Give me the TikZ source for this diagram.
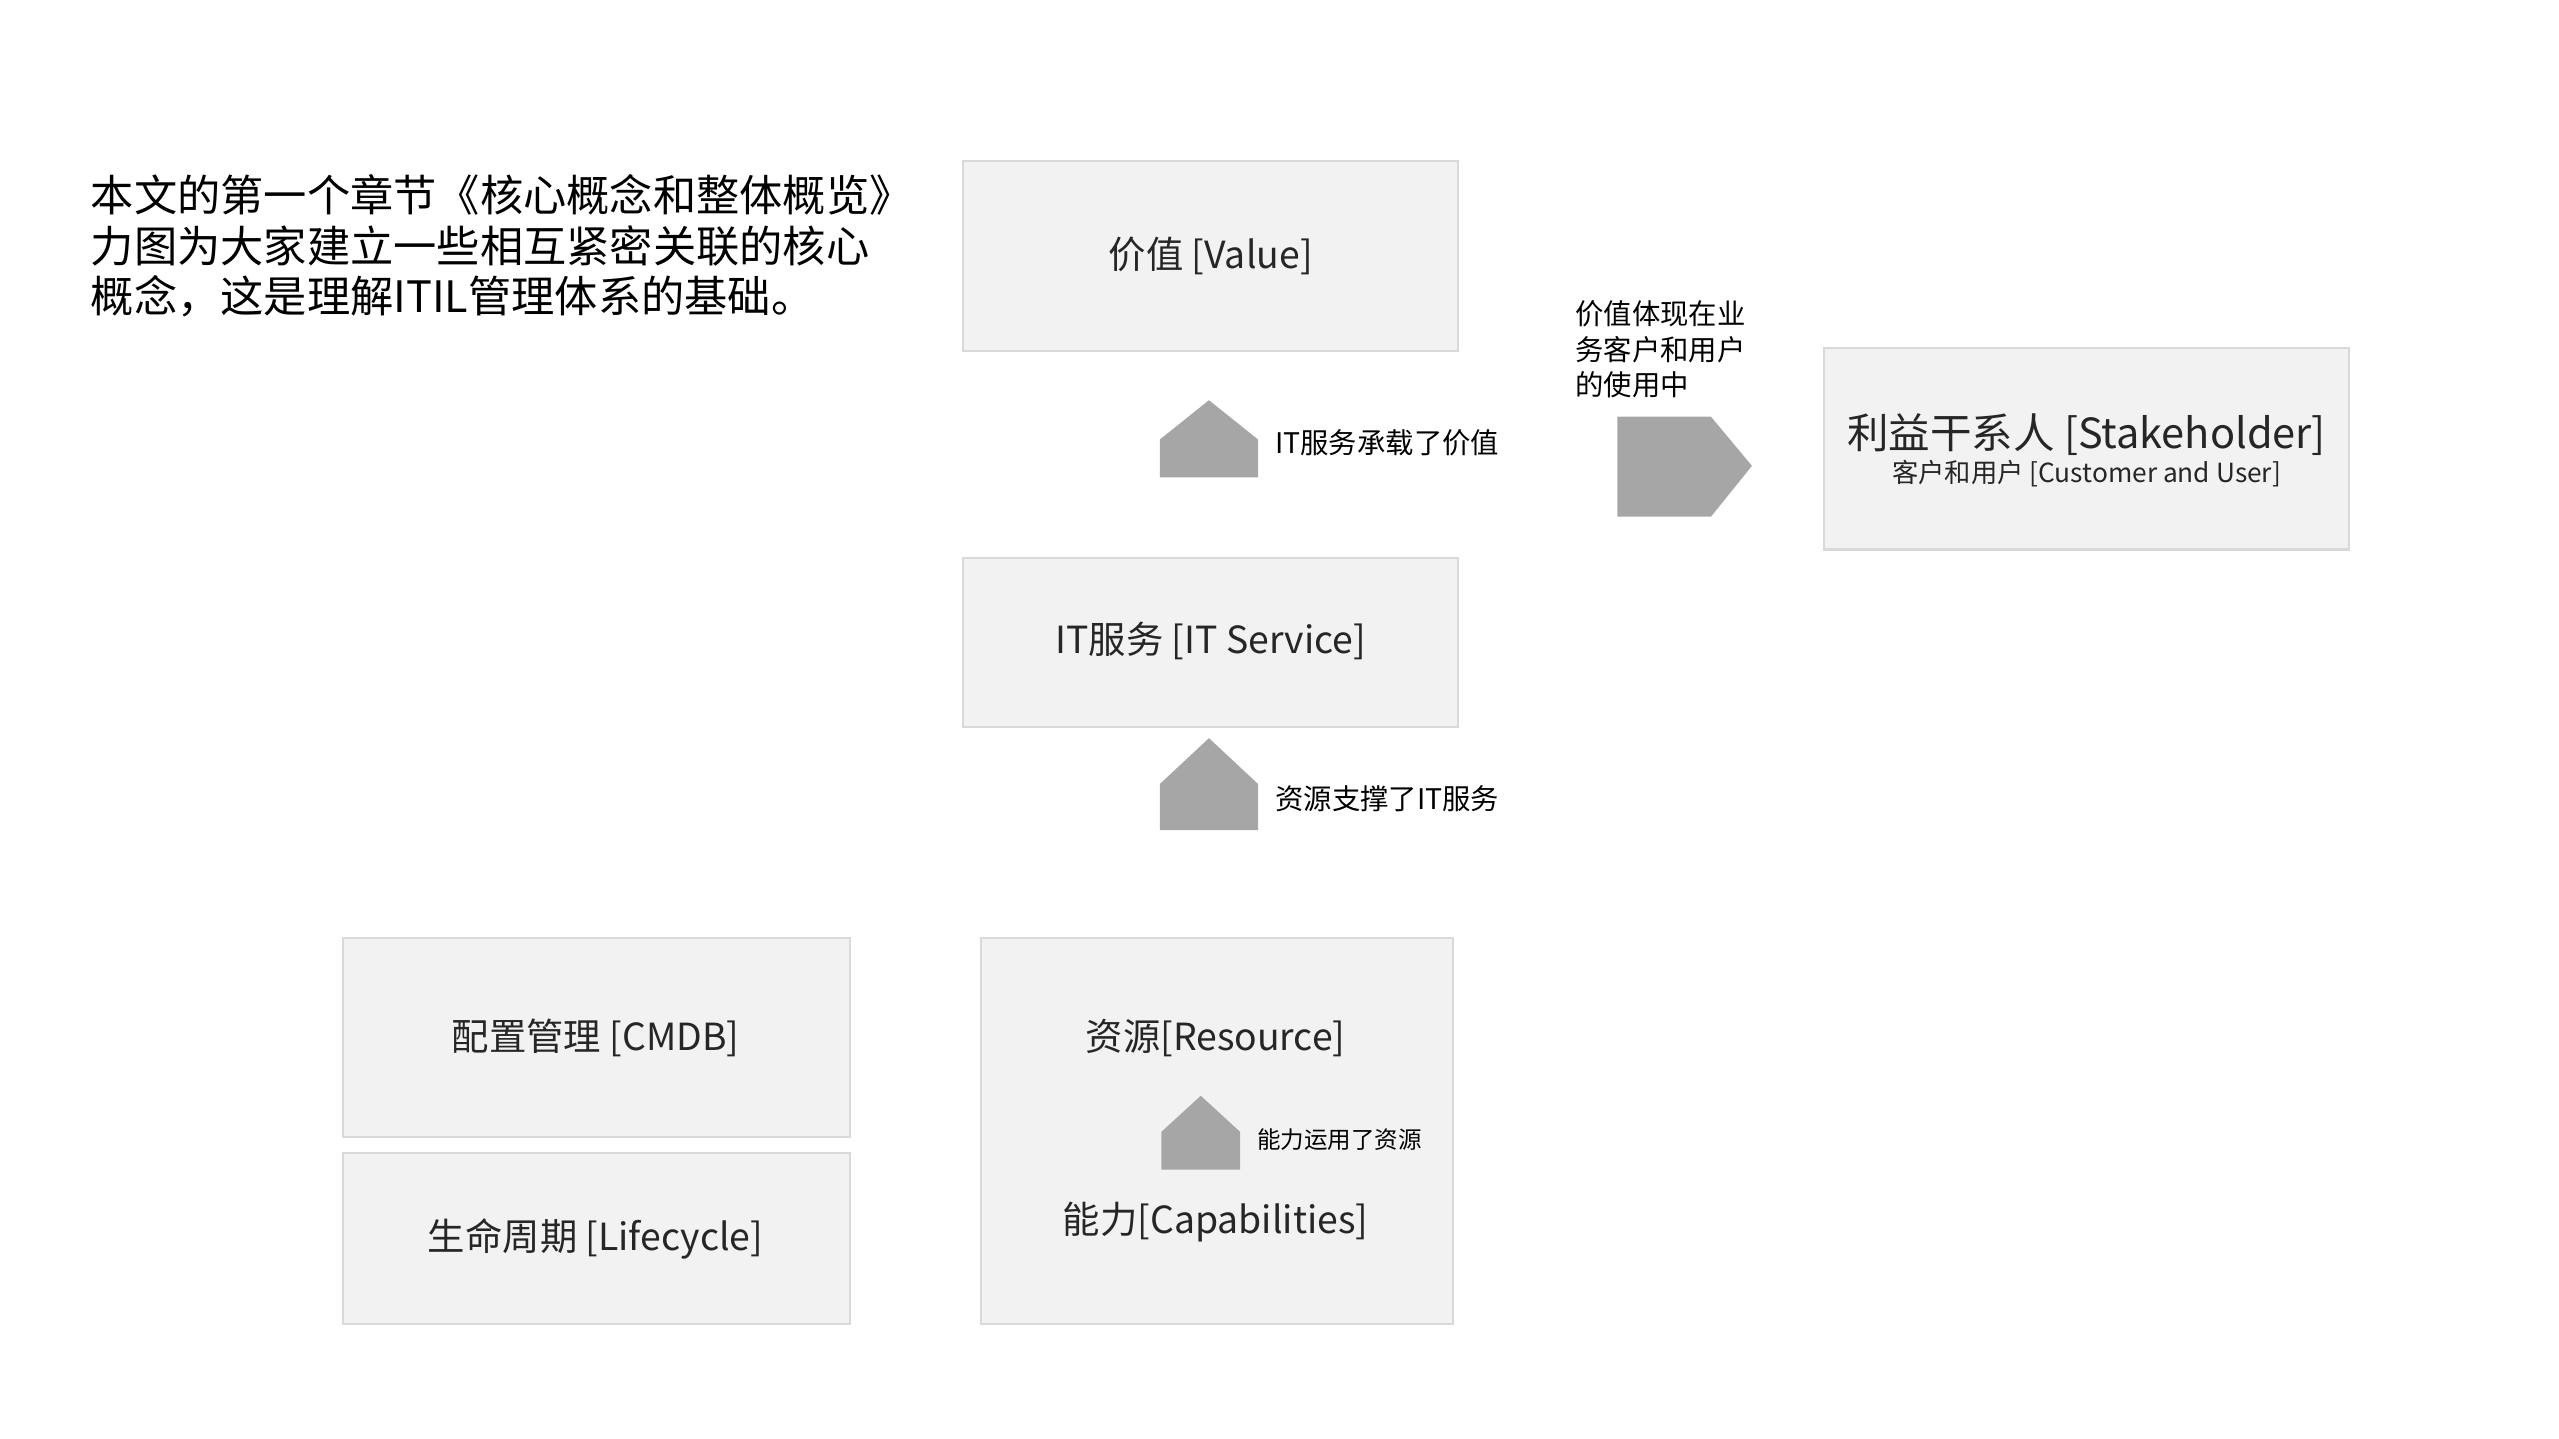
\documentclass[tikz,border=0pt]{standalone}
\usepackage{fontspec}
\setmainfont{Noto Sans CJK SC}
\begin{document}
\begin{tikzpicture}[x=0.016667cm,y=-0.016667cm,
  box/.style={draw=black!15,fill=black!5,line width=0.6pt},
  arr/.style={fill=black!35,draw=none},
  bt/.style={font=\fontsize{10.8}{13}\selectfont,text=black!85,inner sep=0},
  lbl/.style={font=\fontsize{8.2}{10}\selectfont,anchor=west,inner sep=0},
  sml/.style={font=\fontsize{6.8}{8}\selectfont,anchor=west,inner sep=0}]
\useasboundingbox (0,0) rectangle (1560,877);
\node[anchor=north west,align=left,inner sep=0,font=\fontsize{12.5}{14.6}\selectfont] (intro) at (55,106)
 {本文的第一个章节《核心概念和整体概览》\\力图为大家建立一些相互紧密关联的核心\\概念，这是理解ITIL管理体系的基础。};
\draw[box] (587,98) rectangle (889,214);
\node[bt] (value) at (738,156) {价值 [Value]};
\draw[box] (587,340) rectangle (889,443);
\node[bt] (its) at (738,391) {IT服务 [IT Service]};
\draw[box] (1112,212) rectangle (1432,335);
\node[bt,font=\fontsize{12}{14}\selectfont] (sh) at (1272,265) {利益干系人 [Stakeholder]};
\node[inner sep=0,font=\fontsize{7.6}{9}\selectfont,text=black!85] (cu) at (1272,289) {客户和用户 [Customer and User]};
\draw[box] (209,572) rectangle (518,693);
\node[bt] (cmdb) at (363,633) {配置管理 [CMDB]};
\draw[box] (209,703) rectangle (518,807);
\node[bt] (lc) at (363,755) {生命周期 [Lifecycle]};
\draw[box] (598,572) rectangle (886,807);
\node[bt] (res) at (741,633) {资源[Resource]};
\node[bt] (cap) at (741,745) {能力[Capabilities]};
% arrows
\fill[arr] (707,291) -- (707,268) -- (737,244) -- (767,268) -- (767,291) -- cycle;
\node[lbl] (l1) at (777,270) {IT服务承载了价值};
\fill[arr] (707,506) -- (707,478) -- (737,450) -- (767,478) -- (767,506) -- cycle;
\node[lbl] (l2) at (777,487) {资源支撑了IT服务};
\fill[arr] (708,713) -- (708,690) -- (732,668) -- (756,690) -- (756,713) -- cycle;
\node[sml] (l3) at (766,695) {能力运用了资源};
\fill[arr] (986,254) -- (1043,254) -- (1068,284) -- (1043,315) -- (986,315) -- cycle;
\node[lbl,align=left,anchor=north west,font=\fontsize{8.2}{10.2}\selectfont] (l4) at (960,183) {价值体现在业\\务客户和用户\\的使用中};
\end{tikzpicture}
\end{document}
